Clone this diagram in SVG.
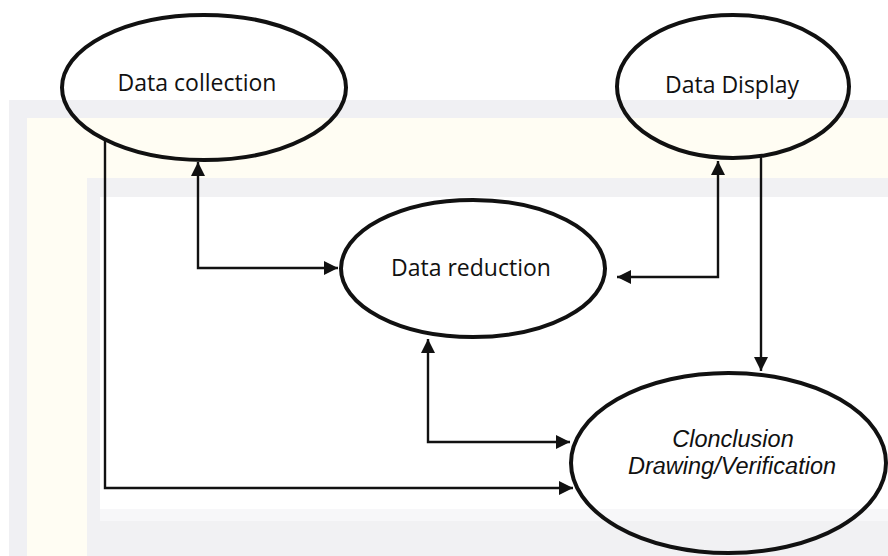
<svg xmlns="http://www.w3.org/2000/svg" width="888" height="556" viewBox="0 0 888 556">
  <style>
    .node { fill: none; stroke: #111; stroke-width: 4; }
    .label { font-family: "Open Sans", "Liberation Sans", sans-serif; font-size: 23px; fill: #111; text-anchor: middle; }
    .label-it { font-family: "Liberation Sans", Arial, sans-serif; font-size: 23.5px; font-style: italic; fill: #111; text-anchor: middle; }
    .wire { fill: none; stroke: #111; stroke-width: 2.4; }
    .one { marker-end: url(#tip); }
    .two { marker-start: url(#tip); marker-end: url(#tip); }
  </style>
  <defs>
    <marker id="tip" viewBox="0 0 14 14" refX="14" refY="7" markerWidth="14" markerHeight="14" markerUnits="userSpaceOnUse" orient="auto-start-reverse">
      <path d="M0,0 L14,7 L0,14 z" fill="#111"/>
    </marker>
  </defs>

  <!-- page background with faint frame bands -->
  <g id="background">
    <rect x="0" y="0" width="888" height="556" fill="#ffffff"/>
    <rect x="9" y="100" width="879" height="456" fill="#f0f0f3"/>
    <rect x="27" y="118" width="861" height="438" fill="#fffdf3"/>
    <rect x="87" y="178" width="801" height="378" fill="#f1f1f3"/>
    <rect x="100" y="197" width="788" height="312" fill="#ffffff"/>
    <rect x="100" y="509" width="788" height="12" fill="#f7f7f9"/>
  </g>

  <g id="connectors">
    <path class="wire two" d="M198,162 V268 H338"/>
    <path class="wire two" d="M718,161 V277 H617"/>
    <path class="wire one" d="M761,157 V371"/>
    <path class="wire two" d="M428,339 V442 H570"/>
    <path class="wire one" d="M105,140 V488 H573"/>
  </g>

  <g id="data-collection">
    <ellipse class="node" cx="204" cy="87.5" rx="142" ry="72.5"/>
    <text class="label" x="197" y="91">Data collection</text>
  </g>

  <g id="data-display">
    <ellipse class="node" cx="733" cy="86.5" rx="116" ry="71.5"/>
    <text class="label" x="732" y="93">Data Display</text>
  </g>

  <g id="data-reduction">
    <ellipse class="node" cx="473" cy="268.5" rx="132" ry="68.5"/>
    <text class="label" x="471" y="276">Data reduction</text>
  </g>

  <g id="conclusion">
    <ellipse class="node" cx="728.5" cy="463" rx="157.5" ry="90"/>
    <text class="label-it" x="733" y="447">Clonclusion</text>
    <text class="label-it" x="732" y="474">Drawing/Verification</text>
  </g>
</svg>
